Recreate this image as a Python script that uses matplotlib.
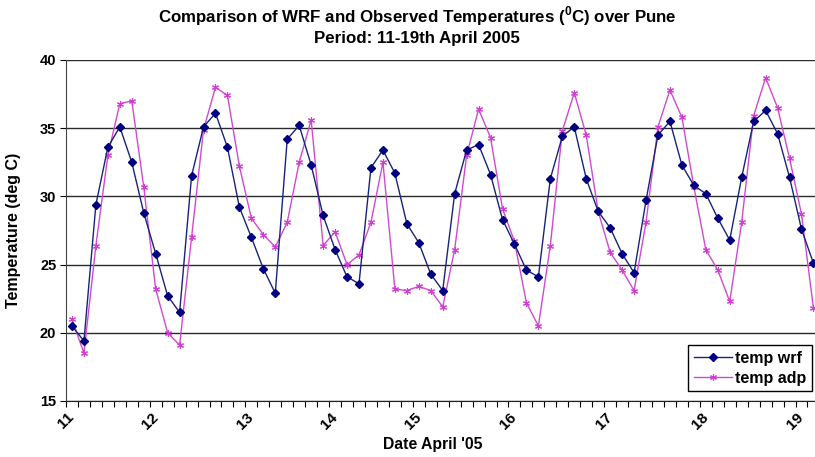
import matplotlib
matplotlib.use('Agg')
import matplotlib.pyplot as plt
from matplotlib.ticker import FixedLocator, MultipleLocator
import numpy as np

# 3-hourly temperatures, 11-19 April 2005
temp_wrf = [20.5, 19.4, 29.4, 33.6, 35.1, 32.5, 28.8,
            25.8, 22.7, 21.5, 31.5, 35.1, 36.1, 33.6, 29.2,
            27.0, 24.7, 22.9, 34.2, 35.2, 32.3, 28.6,
            26.1, 24.1, 23.6, 32.1, 33.4, 31.7, 28.0,
            26.6, 24.3, 23.1, 30.2, 33.4, 33.8, 31.6, 28.3,
            26.5, 24.6, 24.1, 31.3, 34.4, 35.1, 31.3, 28.9,
            27.7, 25.8, 24.4, 29.7, 34.5, 35.5, 32.3, 30.8,
            30.2, 28.4, 26.8, 31.4, 35.5, 36.3, 34.6, 31.4,
            27.6, 25.1]
temp_adp = [21.0, 18.5, 26.4, 33.0, 36.8, 37.0, 30.7,
            23.2, 20.0, 19.1, 27.0, 34.9, 38.0, 37.4, 32.2,
            28.4, 27.2, 26.3, 28.1, 32.5, 35.6, 26.4,
            27.4, 25.0, 25.7, 28.1, 32.5, 23.2, 23.1,
            23.4, 23.1, 21.9, 26.1, 33.0, 36.4, 34.3, 29.1,
            26.7, 22.2, 20.5, 26.4, 34.8, 37.6, 34.5, 28.9,
            25.9, 24.6, 23.1, 28.1, 35.1, 37.8, 35.8, 30.7,
            26.1, 24.6, 22.3, 28.1, 35.9, 38.7, 36.5, 32.8,
            28.7, 21.8]

# first observation of each day
day_labels = ['11', '12', '13', '14', '15', '16', '17', '18', '19']
day_start = [0, 7, 15, 22, 29, 37, 45, 53, 61]

plt.rcParams['font.family'] = ['Liberation Sans', 'DejaVu Sans']
plt.rcParams['font.weight'] = 'bold'
plt.rcParams['mathtext.fontset'] = 'custom'
plt.rcParams['mathtext.rm'] = 'Liberation Sans:bold'
plt.rcParams['mathtext.bf'] = 'Liberation Sans:bold'

fig = plt.figure(figsize=(8.15, 4.57), dpi=100)
ax = fig.add_axes([66 / 815, 1 - 401 / 457, 1 - 66 / 815, 341 / 457])

x = np.arange(len(temp_wrf))
ax.plot(x, temp_wrf, color='#18237a', lw=1.0, marker='D', ms=4,
        mfc='#000080', mec='#000080', label='temp wrf', zorder=4)
ax.plot(x, temp_adp, color='#d04ad0', lw=1.0, marker=(6, 2, 0), ms=5,
        mec='#d040d0', mew=0.8, label='temp adp', zorder=3)

ax.set_xlim(-0.5, 62.13)
ax.set_ylim(15, 40)
ax.yaxis.set_major_locator(MultipleLocator(5))
ax.grid(axis='y', color='#2a2a2a', lw=1.0)
ax.set_axisbelow(True)

for s in ['top', 'right']:
    ax.spines[s].set_visible(False)
ax.spines['left'].set_color('#444444')
ax.spines['bottom'].set_color('#222222')

ax.set_xticks(day_start)
ax.set_xticklabels(day_labels, rotation=45, ha='right', va='center',
                   rotation_mode='anchor', fontsize=11, fontweight='bold')
ax.tick_params(axis='x', which='major', length=0, pad=10)
ax.xaxis.set_minor_locator(FixedLocator(np.arange(-0.5, 63, 1)))
ax.tick_params(axis='x', which='minor', length=4, width=0.8, direction='out')
ax.tick_params(axis='y', length=4, width=0.8, labelsize=10.5, pad=3)
for lbl in ax.get_yticklabels():
    lbl.set_fontweight('bold')

fig.text(14 / 815, 1 - 230 / 457, 'Temperature (deg C)', rotation=90,
         ha='center', va='center', fontsize=11.5, fontweight='bold')
fig.text(433 / 815, 1 - 445 / 457, "Date April '05", ha='center',
         va='center', fontsize=11.3, fontweight='bold')
fig.text(417 / 815, 1 - 16 / 457,
         'Comparison of WRF and Observed Temperatures ($^0$C) over Pune',
         ha='center', va='center', fontsize=12.2, fontweight='bold')
fig.text(417 / 815, 1 - 38 / 457, 'Period: 11-19th April 2005',
         ha='center', va='center', fontsize=12.2, fontweight='bold')

leg = ax.legend(loc='lower right', bbox_to_anchor=(0.996, 0.029),
                fancybox=False, framealpha=1, edgecolor='black',
                borderaxespad=0, borderpad=0.35, labelspacing=0.3,
                handlelength=2.4, handletextpad=0.2,
                prop={'weight': 'bold', 'size': 11.5})
leg.get_frame().set_linewidth(1.0)

fig.savefig('out.png', dpi=100)
